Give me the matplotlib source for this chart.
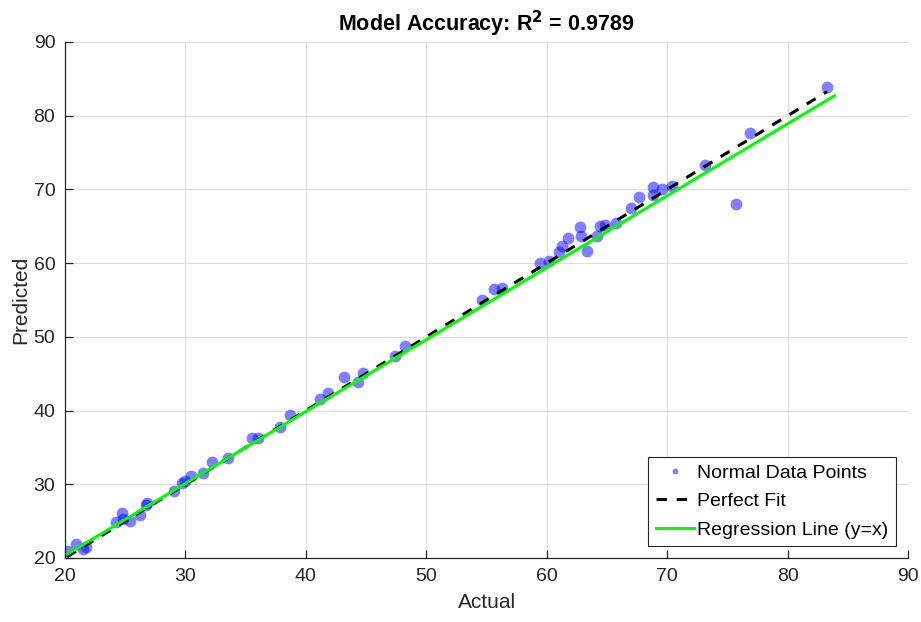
import matplotlib.pyplot as plt
import numpy as np

plt.rcParams['font.family'] = ['Liberation Sans', 'DejaVu Sans']

# values
actual = [20.17, 20.91, 21.49, 21.74, 24.23, 24.73, 24.82, 25.40, 26.23, 26.73,
          26.81, 29.05, 29.72, 29.96, 30.46, 31.46, 32.21, 33.53, 35.53, 36.03,
          37.85, 38.68, 41.17, 41.84, 43.17, 44.33, 44.74, 47.40, 48.23, 54.63,
          55.62, 56.29, 59.44, 60.19, 61.02, 61.27, 61.77, 62.76, 62.85, 63.34,
          64.18, 64.42, 64.84, 65.75, 67.00, 67.66, 68.82, 68.82, 69.57, 70.40,
          73.14, 75.71, 76.88, 83.27]
predicted = [20.95, 21.90, 21.22, 21.49, 24.88, 26.10, 25.29, 25.02, 25.83, 27.19,
             27.46, 29.09, 30.17, 30.44, 31.12, 31.53, 33.02, 33.56, 36.28, 36.28,
             37.77, 39.40, 41.57, 42.38, 44.56, 43.88, 45.10, 47.41, 48.77, 55.01,
             56.51, 56.64, 60.02, 60.29, 61.51, 62.32, 63.41, 64.90, 63.68, 61.65,
             63.68, 65.03, 65.17, 65.44, 67.48, 68.97, 70.33, 69.24, 70.06, 70.47,
             73.31, 68.02, 77.65, 83.90]

fit_slope = 0.976
fit_intercept = 0.83
fit_range = [20.2, 83.9]
r_squared = 0.9789

ticks = [20, 30, 40, 50, 60, 70, 80, 90]

fig = plt.figure(figsize=(9.21, 6.22), dpi=100)
ax = fig.add_axes([0.0706, 0.1029, 0.9154, 0.8296])

ax.plot(actual, predicted, 'o', color='blue', alpha=0.5, markersize=8.5,
        markeredgewidth=0, label='Normal Data Points', zorder=3)

line_x = np.array([min(actual), max(actual)])
ax.plot(line_x, line_x, color='black', lw=2.2, dashes=(3.4, 3.2),
        label='Perfect Fit', zorder=4)

fit_x = np.array(fit_range)
ax.plot(fit_x, fit_slope * fit_x + fit_intercept, color=(0, 1, 0), lw=2.2,
        label='Regression Line (y=x)', zorder=5)

ax.set_xlim(20, 90)
ax.set_ylim(20, 90)
ax.set_xticks(ticks)
ax.set_yticks(ticks)
ax.grid(True, color='#dedede', lw=0.8, zorder=0)
ax.set_axisbelow(True)
for side in ['top', 'right']:
    ax.spines[side].set_visible(False)
for side in ['left', 'bottom']:
    ax.spines[side].set_color('#262626')
    ax.spines[side].set_linewidth(0.9)
ax.tick_params(direction='in', length=6, width=0.9, colors='#262626',
               labelsize=14, pad=7)

ax.set_xlabel('Actual', fontsize=15, color='#262626', labelpad=6)
ax.set_ylabel('Predicted', fontsize=15, color='#262626', labelpad=2)
ax.set_title(r'Model Accuracy: R$^{\mathbf{2}}$ = %.4f' % r_squared,
             fontsize=15.5, fontweight='bold', pad=8)

leg = ax.legend(loc='lower right', fontsize=14, frameon=True, fancybox=False,
                edgecolor='#262626', framealpha=1, borderpad=0.4,
                handlelength=2.0, handletextpad=0.15, borderaxespad=0.6,
                labelspacing=0.55, markerscale=0.5)
leg.get_frame().set_linewidth(0.8)

fig.savefig('out.png', dpi=100)
